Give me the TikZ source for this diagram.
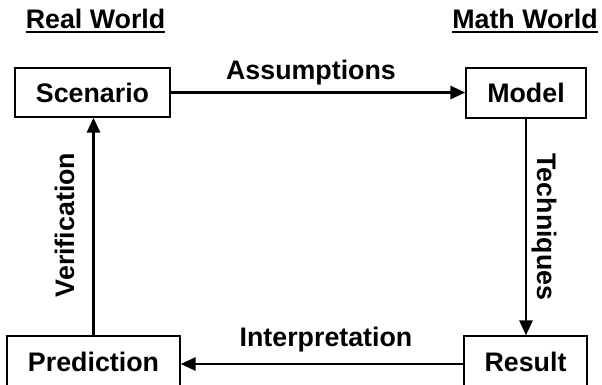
\documentclass[tikz,border=0pt]{standalone}
\usepackage{fontspec}
\setmainfont{Liberation Sans}
\usetikzlibrary{arrows.meta}
\begin{document}
\begin{tikzpicture}[x=1pt,y=-1pt,
  every node/.style={font=\fontsize{26.8}{30}\selectfont\bfseries, inner sep=0pt},
  box/.style={draw, line width=1.3pt, fill=white},
  conn/.style={line width=2.8pt, -{Triangle[length=15pt,width=13pt]}},
  uline/.style={line width=2pt}]
\useasboundingbox (0,0) rectangle (602,384);
\node[box, minimum width=155pt, minimum height=49pt] (S) at (92.5,92.5) {Scenario};
\node[box, minimum width=120pt, minimum height=50pt] (M) at (526,93) {Model};
\node[box, minimum width=173pt, minimum height=52pt] (P) at (93.5,362) {Prediction};
\node[box, minimum width=123pt, minimum height=52pt] (R) at (525.5,362) {Result};
\node[anchor=base] (rw) at (95.5,28) {Real World};
\node[anchor=base] (mw) at (525,28) {Math World};
\draw[uline] ([yshift=-4pt]rw.base west) -- ([yshift=-4pt]rw.base east);
\draw[uline] ([yshift=-4pt]mw.base west) -- ([yshift=-4pt]mw.base east);
\draw[conn] (S.east) -- (S.east -| M.west);
\draw[conn] (M.south) -- (M.south |- R.north);
\draw[conn] ([yshift=-2pt]R.west) -- ([yshift=-2pt]R.west -| P.east);
\draw[conn] (P.north) -- (P.north |- S.south);
\node[anchor=base] (as) at (311,79) {Assumptions};
\node[anchor=base] (ip) at (326,346) {Interpretation};
\node[anchor=base, rotate=90] (vf) at (74,225) {Verification};
\node[anchor=base, rotate=-90] (tq) at (537,227) {Techniques};
\end{tikzpicture}
\end{document}
